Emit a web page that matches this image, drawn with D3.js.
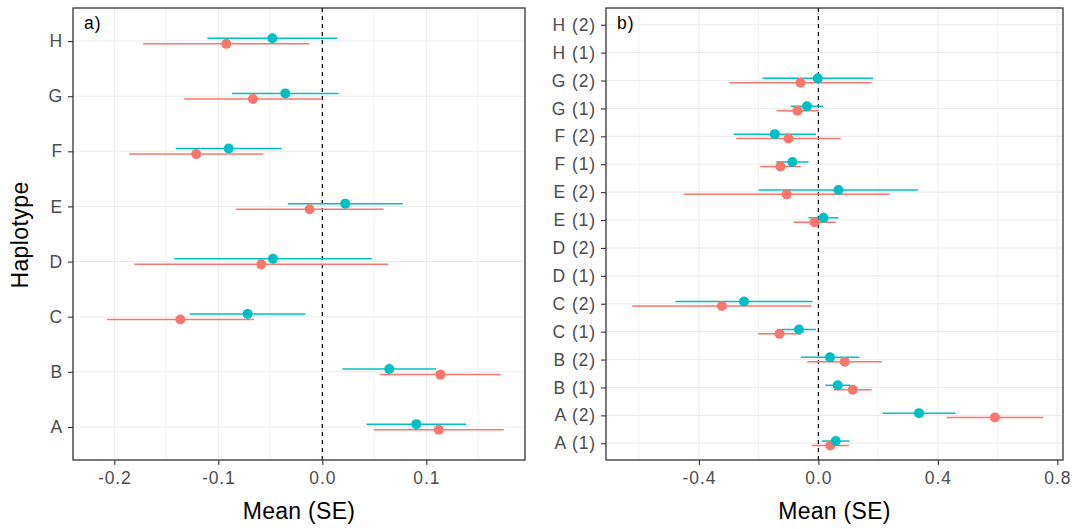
<!DOCTYPE html>
<html>
<head>
<meta charset="utf-8">
<script src="https://cdn.jsdelivr.net/npm/d3@7"></script>
<style>
  html, body { margin: 0; padding: 0; background: #ffffff; }
  svg { display: block; }
  text { font-family: "Liberation Sans", Arial, sans-serif; }
</style>
</head>
<body>
<svg id="chart" width="1078" height="529"></svg>
<script>
// ---- Panel a: haplotypes ----
const haplotypesA = ["A", "B", "C", "D", "E", "F", "G", "H"];
const meanA1 = [0.112, 0.1135, -0.1365, -0.0587, -0.0122, -0.1212, -0.0667, -0.0923];
const seA1   = [0.0625, 0.058, 0.0706, 0.122, 0.071, 0.0645, 0.066, 0.080];
const meanA2 = [0.0904, 0.0644, -0.0718, -0.0474, 0.0221, -0.090, -0.0356, -0.048];
const seA2   = [0.048, 0.045, 0.0556, 0.095, 0.0553, 0.051, 0.0512, 0.0625];
const ticksA = [-0.2, -0.1, 0.0, 0.1];
const minorA = [-0.15, -0.05, 0.05, 0.15];

// ---- Panel b: haplotype by copy ----
const haplotypesB = ["A (1)", "A (2)", "B (1)", "B (2)", "C (1)", "C (2)", "D (1)", "D (2)",
                     "E (1)", "E (2)", "F (1)", "F (2)", "G (1)", "G (2)", "H (1)", "H (2)"];
const meanB1 = [0.040, 0.591, 0.115, 0.088, -0.130, -0.323, null, null,
                -0.013, -0.106, -0.127, -0.100, -0.070, -0.060, null, null];
const seB1   = [0.062, 0.162, 0.063, 0.125, 0.073, 0.300, null, null,
                0.071, 0.345, 0.068, 0.175, 0.070, 0.238, null, null];
const meanB2 = [0.058, 0.337, 0.065, 0.039, -0.065, -0.249, null, null,
                0.017, 0.067, -0.087, -0.146, -0.038, -0.002, null, null];
const seB2   = [0.047, 0.122, 0.042, 0.098, 0.057, 0.230, null, null,
                0.050, 0.267, 0.054, 0.138, 0.054, 0.185, null, null];
const ticksB = [-0.4, 0.0, 0.4, 0.8];
const minorB = [-0.6, -0.2, 0.2, 0.6];

const colors = ["#F8766D", "#00BFC4"];

const svg = d3.select("#chart");
// one decimal, plain hyphen for negatives
const fmt = d => d3.format(".1f")(d).replace("\u2212", "-");

function rows(cats, m1, s1, m2, s2) {
  const out = [];
  cats.forEach((c, i) => {
    if (m1[i] != null) out.push({cat: c, mean: m1[i], se: s1[i], g: 0});
    if (m2[i] != null) out.push({cat: c, mean: m2[i], se: s2[i], g: 1});
  });
  return out;
}

function panel(opt) {
  const {left, right, top, bottom, cats, data, domain, ticks, minor, tag, dodge} = opt;
  const g = svg.append("g");
  const x = d3.scaleLinear().domain(domain).range([left, right]);
  const y = d3.scalePoint().domain(cats).range([bottom, top]).padding(0.6);

  // background grid
  const grid = g.append("g");
  grid.selectAll(".minor").data(minor).join("line")
    .attr("x1", d => x(d)).attr("x2", d => x(d))
    .attr("y1", top).attr("y2", bottom)
    .attr("stroke", "#ebebeb").attr("stroke-width", 0.6);
  grid.selectAll(".major").data(ticks).join("line")
    .attr("x1", d => x(d)).attr("x2", d => x(d))
    .attr("y1", top).attr("y2", bottom)
    .attr("stroke", "#ebebeb").attr("stroke-width", 1.1);
  grid.selectAll(".hmajor").data(cats).join("line")
    .attr("x1", left).attr("x2", right)
    .attr("y1", d => y(d)).attr("y2", d => y(d))
    .attr("stroke", "#ebebeb").attr("stroke-width", 1.1);

  // zero reference
  g.append("line")
    .attr("x1", x(0)).attr("x2", x(0)).attr("y1", top).attr("y2", bottom)
    .attr("stroke", "#000").attr("stroke-width", 1.2).attr("stroke-dasharray", "4,4");

  const yy = d => y(d.cat) + (d.g === 0 ? dodge : -dodge);

  // error bars
  g.append("g").selectAll("line").data(data).join("line")
    .attr("x1", d => x(d.mean - d.se)).attr("x2", d => x(d.mean + d.se))
    .attr("y1", yy).attr("y2", yy)
    .attr("stroke", d => colors[d.g]).attr("stroke-width", 1.5);

  // means
  g.append("g").selectAll("circle").data(data).join("circle")
    .attr("cx", d => x(d.mean)).attr("cy", yy).attr("r", 5)
    .attr("fill", d => colors[d.g]);

  // panel border
  g.append("rect")
    .attr("x", left).attr("y", top).attr("width", right - left).attr("height", bottom - top)
    .attr("fill", "none").attr("stroke", "#333333").attr("stroke-width", 1.3);

  // axes
  const xAxis = d3.axisBottom(x).tickValues(ticks).tickFormat(fmt).tickSize(5).tickPadding(6);
  const gx = g.append("g").attr("transform", `translate(0,${bottom})`).call(xAxis);
  const yAxis = d3.axisLeft(y).tickSize(5).tickPadding(5);
  const gy = g.append("g").attr("transform", `translate(${left},0)`).call(yAxis);
  [gx, gy].forEach(a => {
    a.select(".domain").remove();
    a.selectAll(".tick line").attr("stroke", "#333333").attr("stroke-width", 1.1);
    a.selectAll(".tick text").attr("fill", "#4d4d4d")
      .style("font-size", "17.5px").style("letter-spacing", "0.9px");
  });
  gx.selectAll(".tick text").attr("dy", "0.71em").attr("y", 12);
  gy.selectAll(".tick text").attr("x", -10);

  // panel tag
  g.append("text").attr("x", left + 11).attr("y", top + 21)
    .style("font-size", "17.5px").style("letter-spacing", "1px").attr("fill", "#000").text(tag);

  // x title
  g.append("text").attr("x", (left + right) / 2).attr("y", 519)
    .attr("text-anchor", "middle").style("font-size", "23px").attr("fill", "#000")
    .style("letter-spacing", "0.3px")
    .text("Mean (SE)");
  return {x, y};
}

panel({
  left: 73, right: 525, top: 8, bottom: 460,
  cats: haplotypesA, data: rows(haplotypesA, meanA1, seA1, meanA2, seA2),
  domain: [-0.2397, 0.1949], ticks: ticksA, minor: minorA, tag: "a)", dodge: 2.8
});

panel({
  left: 606, right: 1063, top: 8, bottom: 460,
  cats: haplotypesB, data: rows(haplotypesB, meanB1, seB1, meanB2, seB2),
  domain: [-0.711, 0.819], ticks: ticksB, minor: minorB, tag: "b)", dodge: 2.2
});

// y title
svg.append("text")
  .attr("transform", "translate(28,235) rotate(-90)")
  .attr("text-anchor", "middle").style("font-size", "23px").attr("fill", "#000")
  .style("letter-spacing", "0.4px")
  .text("Haplotype");
</script>
</body>
</html>
